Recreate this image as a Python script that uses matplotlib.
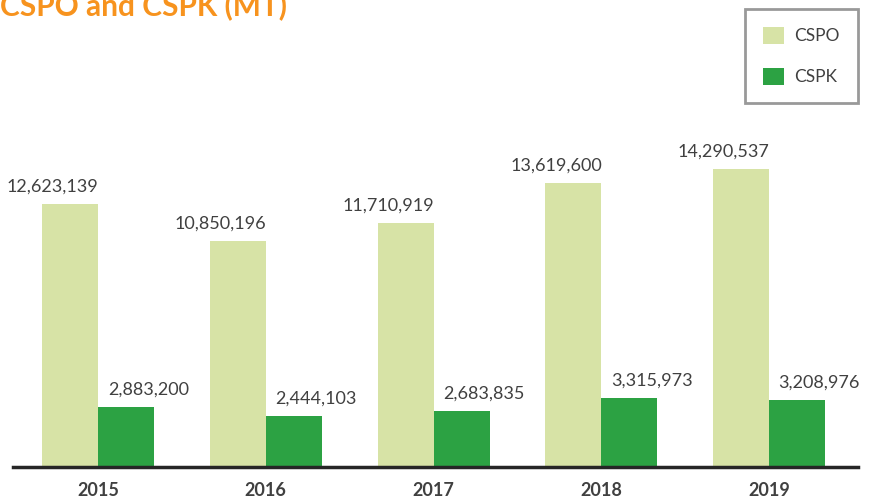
import numpy as np
import matplotlib
matplotlib.use('Agg')
import matplotlib.pyplot as plt
from matplotlib.patches import Patch

plt.rcParams['font.family'] = ['Lato', 'DejaVu Sans']

# data
years = ['2015', '2016', '2017', '2018', '2019']
cspo = [12623139, 10850196, 11710919, 13619600, 14290537]
cspk = [2883200, 2444103, 2683835, 3315973, 3208976]

light = '#D7E3A6'
dark = '#2CA243'
txt = '#404040'

fig = plt.figure(figsize=(8.72, 4.99), dpi=100)
ax = fig.add_axes([13 / 872, 32 / 499, 845 / 872, 467 / 499])

x = np.arange(len(years))
w = 0.334
ax.bar(x - w / 2, cspo, w, color=light)
ax.bar(x + w / 2, cspk, w, color=dark)

# value labels, shifted a bit sideways like the original
for xi, v in zip(x - w / 2, cspo):
    ax.annotate(f'{v:,}', (xi, v), xytext=(-12.5, 6.5), textcoords='offset points',
                ha='center', va='bottom', fontsize=13, color=txt)
for xi, v in zip(x + w / 2, cspk):
    ax.annotate(f'{v:,}', (xi, v), xytext=(16, 6.5), textcoords='offset points',
                ha='center', va='bottom', fontsize=13, color=txt)

ax.set_xlim(-0.507, 4.53)
ax.set_ylim(0, 22.4e6)
ax.set_xticks(x)
ax.set_xticklabels(years, fontsize=13, fontweight='bold', color=txt)
ax.tick_params(axis='x', length=0, pad=11)
ax.set_yticks([])
for s in ['top', 'right', 'left']:
    ax.spines[s].set_visible(False)
ax.spines['bottom'].set_linewidth(2.5)
ax.spines['bottom'].set_color('#262626')

# title, cut off at the top like the original
fig.text(0.0, 1 - 15 / 499, 'CSPO and CSPK (MT)', fontsize=21.5, fontweight='bold',
         color='#F7931E', ha='left', va='baseline')

# legend
handles = [Patch(facecolor=light, label='CSPO'), Patch(facecolor=dark, label='CSPK')]
leg = fig.legend(handles=handles, loc='upper right', bbox_to_anchor=(858 / 872, 1 - 9 / 499),
                 borderaxespad=0, fontsize=12.5, frameon=True, fancybox=False,
                 handlelength=1.2, handleheight=1.1, labelspacing=1.35, borderpad=1.05,
                 handletextpad=0.6, labelcolor=txt)
leg.get_frame().set_edgecolor('#808080')
leg.get_frame().set_linewidth(2)

fig.savefig('out.png', dpi=100)
